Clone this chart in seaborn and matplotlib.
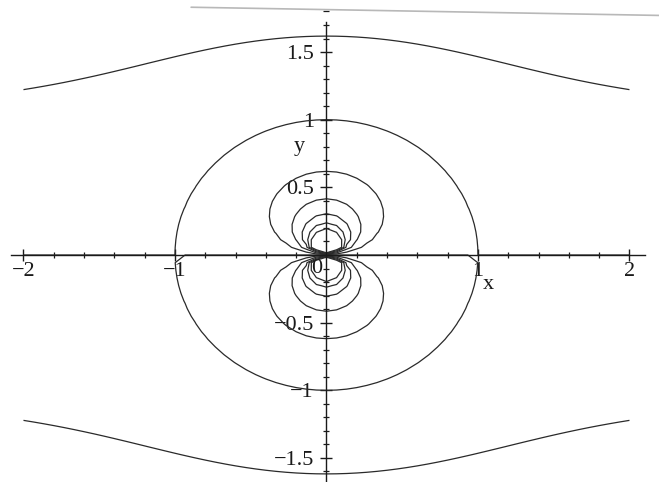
import numpy as np
import matplotlib
matplotlib.use("Agg")
import matplotlib.pyplot as plt
from matplotlib.ticker import MultipleLocator, FixedLocator
from matplotlib.lines import Line2D
import seaborn as sns

# Stream function of uniform flow past a unit cylinder: psi = y - y / (x^2 + y^2)
x_range = [-2.0, 2.0]
y_range = [-1.7, 1.7]
grid_points = [61, 61]
levels = [-5, -4, -3, -2, -1, 0, 1, 2, 3, 4, 5]

x_ticks = [-2, -1, 1, 2]
x_tick_labels = ["\u22122", "\u22121", "1", "2"]
y_ticks = [-1.5, -1, -0.5, 0.5, 1, 1.5]
y_tick_labels = ["\u22121.5", "\u22121", "\u22120.5", "0.5", "1", "1.5"]

sns.set_style("white")
plt.rcParams["font.family"] = ["Liberation Serif", "DejaVu Serif"]

fig = plt.figure(figsize=(6.59, 4.82), dpi=100)
ax = fig.add_axes([0, 0, 1, 1])

xs = np.linspace(x_range[0], x_range[1], grid_points[0])
ys = np.linspace(y_range[0], y_range[1], grid_points[1])
X, Y = np.meshgrid(xs, ys)
R2 = X**2 + Y**2
with np.errstate(divide="ignore", invalid="ignore"):
    PSI = Y - Y / R2
PSI = np.clip(np.nan_to_num(PSI, nan=0.0), -50, 50)

ax.contour(X, Y, PSI, levels=levels, colors="#2a2a2a", linewidths=0.9,
           linestyles="solid")

ax.set_xlim(-2.155, 2.195)
ax.set_ylim(-1.678, 1.885)

for side in ["top", "right"]:
    ax.spines[side].set_visible(False)
ax.spines["left"].set_position(("data", 0))
ax.spines["bottom"].set_position(("data", 0))
ax.spines["left"].set_bounds(-1.72, 1.72)
ax.spines["bottom"].set_bounds(-2.08, 2.1)
for side in ["left", "bottom"]:
    ax.spines[side].set_color("#1a1a1a")
    ax.spines[side].set_linewidth(1.0)

ax.xaxis.set_major_locator(FixedLocator(x_ticks))
ax.set_xticklabels(x_tick_labels)
ax.yaxis.set_major_locator(FixedLocator(y_ticks))
ax.set_yticklabels(y_tick_labels)
ax.xaxis.set_minor_locator(MultipleLocator(0.2))
ax.yaxis.set_minor_locator(MultipleLocator(0.1))
ax.tick_params(which="both", bottom=True, left=True, top=False, right=False)
ax.tick_params(which="major", direction="inout", length=8, width=1.0,
               labelsize=16, colors="#1a1a1a", pad=1)
ax.tick_params(which="minor", direction="inout", length=5, width=0.9,
               colors="#1a1a1a")
ax.tick_params(axis="y", which="major", pad=5)
ax.patch.set_alpha(0)

ax.text(-0.03, -0.03, "0", ha="right", va="top", fontsize=16, color="#1a1a1a")
ax.text(1.03, -0.15, "x", ha="left", va="top", fontsize=16, color="#1a1a1a")
ax.text(-0.14, 0.8, "y", ha="right", va="center", fontsize=16, color="#1a1a1a")

# faint scanner streak across the top edge
fig.add_artist(Line2D([0.29, 1.0], [0.985, 0.968], transform=fig.transFigure,
                      color="#b8b8b8", linewidth=1.2))

fig.savefig("out.png", dpi=100, facecolor="white")
